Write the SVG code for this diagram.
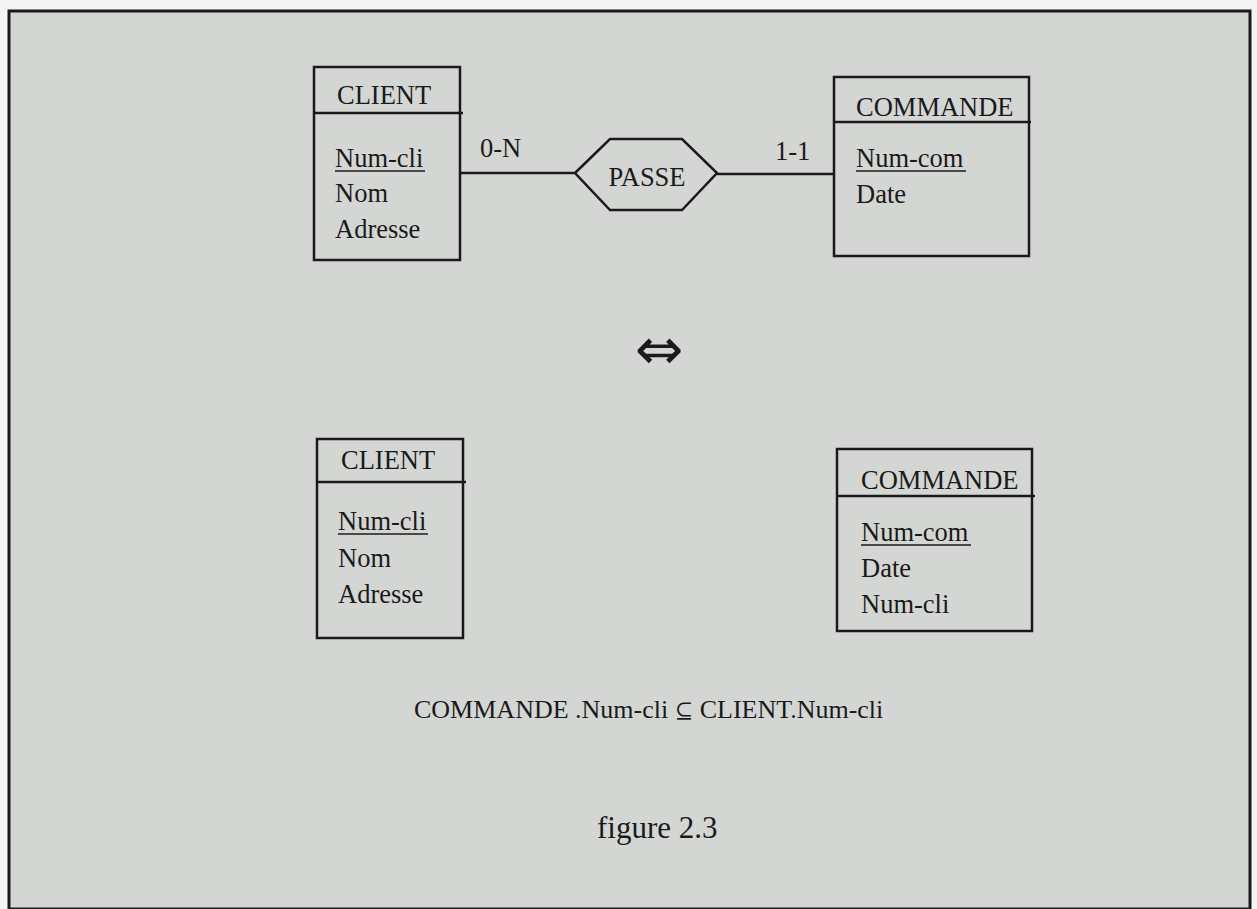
<svg xmlns="http://www.w3.org/2000/svg" width="1257" height="909" viewBox="0 0 1257 909">
<style>
.t{font-family:"Liberation Serif","Times New Roman",serif;font-size:26.5px;fill:#1a1a1a}
.b{fill:none;stroke:#1a1a1a;stroke-width:2.5}
.u{stroke:#1a1a1a;stroke-width:1.6}
.c{stroke:#1a1a1a;stroke-width:2.5;fill:none}
</style>
<rect x="0" y="0" width="1257" height="909" fill="#f4f4f4"/>
<rect x="9" y="11" width="1241" height="898" fill="#d4d6d4" stroke="#1a1a1a" stroke-width="3"/>
<g id="connectors">
<line class="c" x1="460" y1="173" x2="575" y2="173"/>
<line class="c" x1="717" y1="174" x2="834" y2="174"/>
<text class="t" x="480" y="157">0-N</text>
<text class="t" x="775" y="160">1-1</text>
</g>
<g id="client1">
<rect class="b" x="314" y="67" width="146" height="193"/>
<line class="c" x1="314" y1="113" x2="463" y2="113"/>
<text class="t" x="337" y="104">CLIENT</text>
<text class="t" x="335" y="167">Num-cli</text>
<line class="u" x1="335" y1="171" x2="425" y2="171"/>
<text class="t" x="335" y="202">Nom</text>
<text class="t" x="335" y="238">Adresse</text>
</g>
<g id="passe">
<polygon class="b" points="575,173 610,139 682,139 717,173 682,210 610,210"/>
<text class="t" x="647" y="186" text-anchor="middle">PASSE</text>
</g>
<g id="commande1">
<rect class="b" x="834" y="77" width="195" height="179"/>
<line class="c" x1="834" y1="122" x2="1031" y2="122"/>
<text class="t" x="856" y="116">COMMANDE</text>
<text class="t" x="856" y="167">Num-com</text>
<line class="u" x1="856" y1="171" x2="966" y2="171"/>
<text class="t" x="856" y="203">Date</text>
</g>
<g id="equiv">
<text class="t" x="659" y="369" text-anchor="middle" style="font-size:58px;font-family:'DejaVu Sans',sans-serif">⇔</text>
</g>
<g id="client2">
<rect class="b" x="317" y="439" width="146" height="199"/>
<line class="c" x1="317" y1="482" x2="466" y2="482"/>
<text class="t" x="341" y="469">CLIENT</text>
<text class="t" x="338" y="530">Num-cli</text>
<line class="u" x1="338" y1="534" x2="428" y2="534"/>
<text class="t" x="338" y="567">Nom</text>
<text class="t" x="338" y="603">Adresse</text>
</g>
<g id="commande2">
<rect class="b" x="837" y="449" width="195" height="182"/>
<line class="c" x1="837" y1="496" x2="1035" y2="496"/>
<text class="t" x="861" y="489">COMMANDE</text>
<text class="t" x="861" y="541">Num-com</text>
<line class="u" x1="861" y1="545" x2="971" y2="545"/>
<text class="t" x="861" y="577">Date</text>
<text class="t" x="861" y="613">Num-cli</text>
</g>
<g id="constraint">
<text class="t" x="414" y="718" style="font-size:26px">COMMANDE .Num-cli <tspan style="font-family:'DejaVu Serif',serif;font-size:22px">⊆</tspan> CLIENT.Num-cli</text>
</g>
<g id="caption">
<text class="t" x="597" y="838" style="font-size:31px">figure 2.3</text>
</g>
</svg>
